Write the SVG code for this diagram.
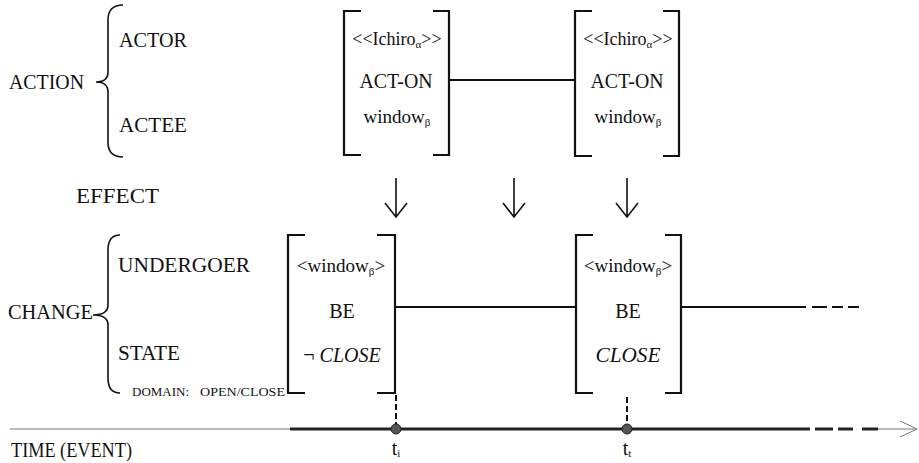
<svg xmlns="http://www.w3.org/2000/svg" width="919" height="463" viewBox="0 0 919 463" font-family="'Liberation Serif', 'Times New Roman', serif">
<style>
  text { font-family: "Liberation Serif", "Times New Roman", serif; fill: #111; }
  .lbl { font-size: 21px; }
  .in { font-size: 20px; text-anchor: middle; }
  .w { font-size: 19px; text-anchor: middle; }
  .sm { font-size: 18px; text-anchor: middle; }
  .sub { font-size: 11px; }
  .br { fill: none; stroke: #111; stroke-width: 2.2; }
  .brace { fill: none; stroke: #111; stroke-width: 1.6; }
  .ln { stroke: #111; stroke-width: 1.8; fill: none; }
  .arr { stroke: #111; stroke-width: 1.6; fill: none; }
</style>

<g id="labels">
  <text class="lbl" x="9" y="89" textLength="75" lengthAdjust="spacingAndGlyphs">ACTION</text>
  <path class="brace" d="M123,5 Q108,5 108,20 L108,72 Q108,82 96,82 Q108,82 108,92 L108,142 Q108,157 123,157"/>
  <text class="lbl" x="119" y="47" textLength="68" lengthAdjust="spacingAndGlyphs">ACTOR</text>
  <text class="lbl" x="119" y="132" textLength="68" lengthAdjust="spacingAndGlyphs">ACTEE</text>
  <text class="lbl" x="76" y="203" textLength="83" lengthAdjust="spacingAndGlyphs">EFFECT</text>
  <text class="lbl" x="8" y="319" textLength="85" lengthAdjust="spacingAndGlyphs">CHANGE</text>
  <path class="brace" d="M120,235 Q108,235 108,250 L108,305 Q108,315 93,315 Q108,315 108,325 L108,378 Q108,393 120,393"/>
  <text class="lbl" x="118" y="272" textLength="132" lengthAdjust="spacingAndGlyphs">UNDERGOER</text>
  <text class="lbl" x="118" y="360" textLength="62" lengthAdjust="spacingAndGlyphs">STATE</text>
  <text x="132" y="396" font-size="12" textLength="57" lengthAdjust="spacingAndGlyphs">DOMAIN:</text>
  <text x="200" y="396" font-size="12" textLength="85" lengthAdjust="spacingAndGlyphs">OPEN/CLOSE</text>
  <text class="lbl" x="11" y="457" textLength="121" lengthAdjust="spacingAndGlyphs">TIME (EVENT)</text>
</g>

<g id="action1">
  <path class="br" d="M361,11 H344 V155 H361 M433,11 H449 V155 H433"/>
  <text class="sm" x="397" y="45">&lt;&lt;Ichiro<tspan class="sub" dy="3">α</tspan><tspan dy="-3">&gt;&gt;</tspan></text>
  <text class="in" x="396" y="88" textLength="73" lengthAdjust="spacingAndGlyphs">ACT-ON</text>
  <text class="w" x="397" y="123">window<tspan class="sub" dy="3">β</tspan></text>
</g>

<g id="action2">
  <path class="br" d="M592,11 H575 V156 H592 M663,11 H679 V156 H663"/>
  <text class="sm" x="628" y="45">&lt;&lt;Ichiro<tspan class="sub" dy="3">α</tspan><tspan dy="-3">&gt;&gt;</tspan></text>
  <text class="in" x="627" y="88" textLength="73" lengthAdjust="spacingAndGlyphs">ACT-ON</text>
  <text class="w" x="628" y="123">window<tspan class="sub" dy="3">β</tspan></text>
</g>

<g id="change1">
  <path class="br" d="M305,235 H288 V393 H305 M377,235 H395 V393 H377"/>
  <text class="w" x="341" y="272">&lt;window<tspan class="sub" dy="3">β</tspan><tspan dy="-3">&gt;</tspan></text>
  <text class="in" x="342" y="318">BE</text>
  <text class="in" x="342" y="362">¬ <tspan font-style="italic">CLOSE</tspan></text>
</g>

<g id="change2">
  <path class="br" d="M593,235 H576 V393 H593 M665,235 H681 V393 H665"/>
  <text class="w" x="628" y="272">&lt;window<tspan class="sub" dy="3">β</tspan><tspan dy="-3">&gt;</tspan></text>
  <text class="in" x="628" y="318">BE</text>
  <text class="in" x="628" y="362" font-style="italic" textLength="65" lengthAdjust="spacingAndGlyphs">CLOSE</text>
</g>

<g id="timeline">
  <line x1="10" y1="429" x2="290" y2="429" stroke="#777" stroke-width="1"/>
  <line x1="290" y1="429" x2="810" y2="429" stroke="#222" stroke-width="3"/>
  <path d="M815,429 H833 M838,429 H853 M862,429 H878" stroke="#222" stroke-width="3"/>
  <line x1="878" y1="429" x2="915" y2="429" stroke="#777" stroke-width="1"/>
  <path d="M900,421 L917,429 L900,437" fill="none" stroke="#777" stroke-width="1"/>
  <circle cx="396" cy="429" r="5" fill="#555" stroke="#222" stroke-width="1"/>
  <circle cx="627" cy="429" r="5" fill="#555" stroke="#222" stroke-width="1"/>
  <text class="in" x="396" y="455">t<tspan class="sub" dy="2">i</tspan></text>
  <text class="in" x="627" y="455">t<tspan class="sub" dy="2">t</tspan></text>
</g>

<g id="connectors">
  <line class="ln" x1="449" y1="80" x2="575" y2="80"/>
  <line class="ln" x1="395" y1="307" x2="576" y2="307"/>
  <line class="ln" x1="681" y1="307" x2="806" y2="307"/>
  <path class="ln" d="M812,307 H827 M832,307 H843 M848,307 H859"/>
  <line x1="396" y1="395" x2="396" y2="424" stroke="#111" stroke-width="2" stroke-dasharray="6,3"/>
  <line x1="627" y1="397" x2="627" y2="424" stroke="#111" stroke-width="2" stroke-dasharray="6,3"/>
  <path class="arr" d="M396,178 V217 M385,203 L396,217 L407,203"/>
  <path class="arr" d="M514,178 V217 M503,203 L514,217 L525,203"/>
  <path class="arr" d="M627,178 V217 M616,203 L627,217 L638,203"/>
</g>
</svg>
